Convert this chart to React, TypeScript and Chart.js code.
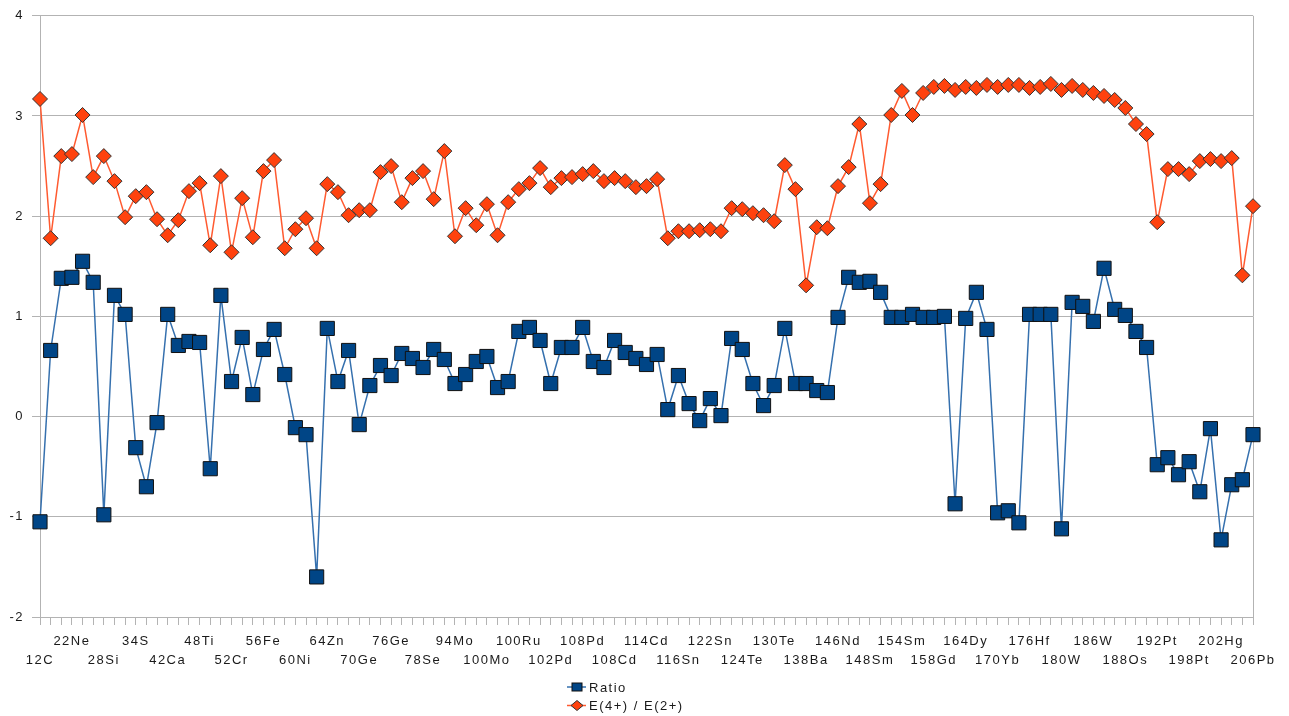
import React, { useEffect, useRef } from 'react';
import { Chart, registerables } from 'chart.js';

Chart.register(...registerables);

const categories = [
  '12C', '16O', '20Ne', '22Ne', '24Mg', '26Mg', '28Si', '30Si', '32S', '34S',
  '36Ar', '40Ar', '42Ca', '44Ca', '46Ti', '48Ti', '50Ti', '50Cr', '52Cr', '54Cr',
  '54Fe', '56Fe', '58Fe', '58Ni', '60Ni', '62Ni', '64Ni', '64Zn', '66Zn', '68Zn',
  '70Ge', '72Ge', '74Ge', '76Ge', '74Se', '76Se', '78Se', '80Se', '82Se', '94Mo',
  '96Mo', '98Mo', '100Mo', '96Ru', '98Ru', '100Ru', '102Ru', '104Ru', '102Pd', '104Pd',
  '106Pd', '108Pd', '110Pd', '106Cd', '108Cd', '110Cd', '112Cd', '114Cd', '116Cd', '112Sn',
  '116Sn', '118Sn', '120Sn', '122Sn', '120Te', '122Te', '124Te', '126Te', '128Te', '130Te',
  '134Ba', '136Ba', '138Ba', '142Nd', '144Nd', '146Nd', '150Nd', '144Sm', '148Sm', '150Sm',
  '152Sm', '154Sm', '154Gd', '156Gd', '158Gd', '160Gd', '162Dy', '164Dy', '166Er', '168Er',
  '170Yb', '172Yb', '174Yb', '176Hf', '178Hf', '180Hf', '180W', '182W', '184W', '186W',
  '184Os', '186Os', '188Os', '190Os', '192Os', '192Pt', '194Pt', '196Pt', '198Pt', '198Hg',
  '200Hg', '202Hg', '204Hg', '204Pb', '206Pb'
];

const ratioValues = [
  -1.05, 0.66, 1.38, 1.39, 1.55, 1.34, -0.98, 1.21, 1.02, -0.31,
  -0.70, -0.06, 1.02, 0.71, 0.75, 0.74, -0.52, 1.21, 0.35, 0.79,
  0.22, 0.67, 0.87, 0.42, -0.11, -0.18, -1.60, 0.88, 0.35, 0.66,
  -0.08, 0.31, 0.51, 0.41, 0.63, 0.58, 0.49, 0.67, 0.57, 0.33,
  0.42, 0.55, 0.60, 0.29, 0.35, 0.85, 0.89, 0.76, 0.33, 0.69,
  0.69, 0.89, 0.55, 0.49, 0.76, 0.64, 0.58, 0.52, 0.62, 0.07,
  0.41, 0.13, -0.04, 0.18, 0.01, 0.78, 0.67, 0.33, 0.11, 0.31,
  0.88, 0.33, 0.33, 0.26, 0.24, 0.99, 1.39, 1.34, 1.35, 1.24,
  0.99, 0.99, 1.02, 0.99, 0.99, 1.00, -0.87, 0.98, 1.24, 0.87,
  -0.96, -0.94, -1.06, 1.02, 1.02, 1.02, -1.12, 1.14, 1.10, 0.95,
  1.48, 1.07, 1.01, 0.85, 0.69, -0.48, -0.41, -0.58, -0.45, -0.75,
  -0.12, -1.23, -0.68, -0.63, -0.18
];

const energyRatioValues = [
  3.17, 1.78, 2.60, 2.62, 3.01, 2.39, 2.60, 2.35, 1.99, 2.20,
  2.24, 1.97, 1.81, 1.96, 2.25, 2.33, 1.71, 2.40, 1.64, 2.18,
  1.79, 2.45, 2.56, 1.68, 1.87, 1.98, 1.68, 2.32, 2.24, 2.01,
  2.06, 2.06, 2.44, 2.50, 2.14, 2.38, 2.45, 2.17, 2.65, 1.80,
  2.08, 1.91, 2.12, 1.81, 2.14, 2.27, 2.33, 2.48, 2.29, 2.38,
  2.39, 2.42, 2.45, 2.35, 2.38, 2.35, 2.29, 2.30, 2.37, 1.78,
  1.85, 1.85, 1.86, 1.87, 1.85, 2.08, 2.07, 2.03, 2.01, 1.95,
  2.51, 2.27, 1.31, 1.89, 1.88, 2.30, 2.49, 2.92, 2.13, 2.32,
  3.01, 3.25, 3.01, 3.23, 3.29, 3.30, 3.26, 3.29, 3.28, 3.31,
  3.29, 3.31, 3.31, 3.28, 3.29, 3.32, 3.26, 3.30, 3.26, 3.23,
  3.20, 3.16, 3.08, 2.92, 2.82, 1.94, 2.47, 2.47, 2.42, 2.55,
  2.57, 2.55, 2.58, 1.41, 2.10
];

const seriesNames = ['Ratio', 'E(4+) / E(2+)'];
const yMin = -2;
const yMax = 4;
const yStep = 1;
const labelEvery = 3;

const FONT = '"Liberation Sans", Arial, sans-serif';
const GRID = '#b3b3b3';
const TEXT = '#1a1a1a';
const SPACING = '1.5px';

const textSpacing = {
  id: 'textSpacing',
  beforeDraw(chart: any) {
    (chart.ctx as any).letterSpacing = SPACING;
  },
};

const stackedLegend = {
  id: 'stackedLegend',
  afterDraw(chart: any) {
    const { ctx } = chart;
    const datasets = chart.data.datasets;
    const x0 = 567;
    ctx.save();
    datasets.forEach((ds: any, i: number) => {
      const y = 687 + i * 18.5;
      ctx.strokeStyle = ds.borderColor;
      ctx.lineWidth = 1.5;
      ctx.beginPath();
      ctx.moveTo(x0, y);
      ctx.lineTo(x0 + 19, y);
      ctx.stroke();
      ctx.fillStyle = ds.pointBackgroundColor;
      ctx.strokeStyle = ds.pointBorderColor;
      ctx.lineWidth = 1;
      const cx = x0 + 10;
      if (ds.pointStyle === 'rect') {
        ctx.fillRect(cx - 5, y - 4, 10, 8);
        ctx.strokeRect(cx - 5, y - 4, 10, 8);
      } else {
        ctx.beginPath();
        ctx.moveTo(cx, y - 5);
        ctx.lineTo(cx + 6, y);
        ctx.lineTo(cx, y + 5);
        ctx.lineTo(cx - 6, y);
        ctx.closePath();
        ctx.fill();
        ctx.stroke();
      }
      ctx.fillStyle = TEXT;
      ctx.font = '13px ' + FONT;
      ctx.textBaseline = 'middle';
      ctx.textAlign = 'left';
      (ctx as any).letterSpacing = SPACING;
      ctx.fillText(ds.label, x0 + 22, y + 1);
    });
    ctx.restore();
  },
};

export default function App() {
  const canvasRef = useRef<HTMLCanvasElement | null>(null);

  useEffect(() => {
    if (!canvasRef.current) return;
    const chart = new Chart(canvasRef.current, {
      type: 'line',
      data: {
        labels: categories,
        datasets: [
          {
            label: seriesNames[0],
            data: ratioValues,
            borderColor: '#3570ae',
            borderWidth: 1.5,
            pointStyle: 'rect',
            pointRadius: 10,
            pointBackgroundColor: '#004586',
            pointBorderColor: '#111111',
            pointBorderWidth: 1,
            tension: 0,
            clip: false,
          } as any,
          {
            label: seriesNames[1],
            data: energyRatioValues,
            borderColor: '#ff5a30',
            borderWidth: 1.5,
            pointStyle: 'rectRot',
            pointRadius: 7.5,
            pointBackgroundColor: '#ff420e',
            pointBorderColor: '#333333',
            pointBorderWidth: 1,
            tension: 0,
            clip: false,
          } as any,
        ],
      },
      options: {
        responsive: false,
        animation: false,
        events: [],
        layout: { padding: { left: 0, right: 36, top: 14, bottom: 39 } },
        plugins: {
          legend: { display: false },
          tooltip: { enabled: false },
          title: { display: false },
        },
        scales: {
          x: {
            type: 'category',
            offset: false,
            grid: {
              display: true,
              drawOnChartArea: true,
              color: (c: any) => (c.index === categories.length - 1 ? GRID : 'rgba(0,0,0,0)'),
              tickColor: GRID,
              tickLength: 8,
              lineWidth: 1,
            },
            border: { display: true, color: GRID },
            ticks: {
              autoSkip: false,
              maxRotation: 0,
              minRotation: 0,
              padding: 7,
              color: TEXT,
              font: { family: FONT, size: 13, lineHeight: 1.45 },
              callback: function (this: any, value: any, index: number) {
                if (index % labelEvery !== 0) return '';
                const label = this.getLabelForValue(value);
                const k = index / labelEvery;
                return k % 2 === 0 ? ['', label] : [label];
              },
            },
            afterFit: (scale: any) => { scale.height = 60; },
          },
          y: {
            min: yMin,
            max: yMax,
            grid: { color: GRID, tickColor: GRID, tickLength: 8, lineWidth: 1 },
            border: { display: true, color: GRID },
            ticks: {
              stepSize: yStep,
              padding: 8,
              color: TEXT,
              font: { family: FONT, size: 13 },
            },
            afterFit: (scale: any) => { scale.width = 40; },
          },
        },
      } as any,
      plugins: [textSpacing, stackedLegend],
    });
    return () => chart.destroy();
  }, []);

  return (
    <div style={{ position: 'absolute', left: 0, top: 0, width: 1289, height: 716, background: '#fff' }}>
      <canvas ref={canvasRef} width={1289} height={716} style={{ display: 'block' }} />
    </div>
  );
}
